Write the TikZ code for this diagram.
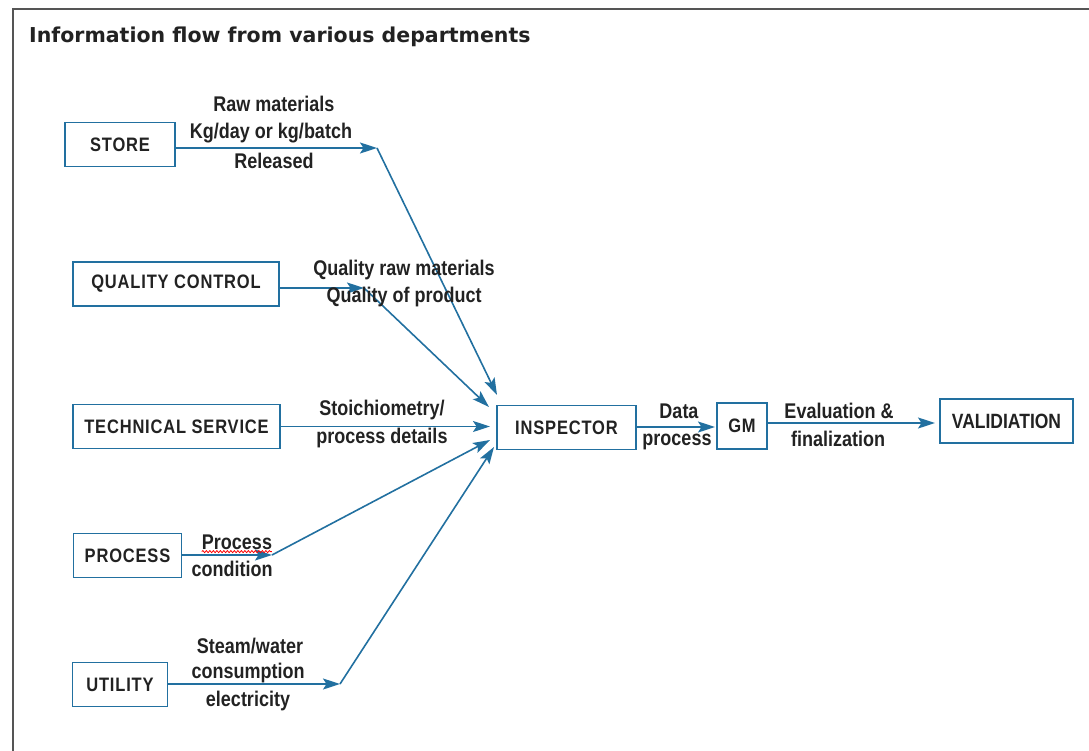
\documentclass[tikz,border=0pt]{standalone}
\usepackage{fontspec}
\usepackage{graphicx}
\setmainfont{Liberation Sans}
\newfontfamily\titlefont{DejaVu Sans}
\newfontfamily\boxfont[LetterSpace=5]{Liberation Sans}
\newcommand\vs[1]{\scalebox{1}[1.18]{#1}}
\usetikzlibrary{arrows.meta,decorations.pathmorphing}
\definecolor{flowblue}{HTML}{2270A0}
\definecolor{txt}{HTML}{222222}
\definecolor{frame}{HTML}{555555}
\tikzset{
  deptbox/.style={draw=flowblue,line width=1.6bp,minimum height=44bp,inner sep=0pt,text=txt,font=\boxfont\bfseries\fontsize{16.5bp}{19bp}\selectfont},
  lbl/.style={text=txt,font=\bfseries\fontsize{18bp}{21bp}\selectfont,inner sep=0pt},
  arr/.style={draw=flowblue,line width=1.6bp,-{Stealth[length=17bp,width=11bp,inset=3.5bp]}}
}
\begin{document}
\begin{tikzpicture}[x=1bp,y=-1bp]
\useasboundingbox (0,0) rectangle (1089,751);
\draw[frame,line width=2bp] (13,751) -- (13,9) -- (1089,9);
\node[anchor=base west,text=txt,font=\titlefont\bfseries\fontsize{20.5bp}{24bp}\selectfont,inner sep=0pt] (title) at (29,43) {Information flow from various departments};

% boxes
\node[deptbox,minimum width=110bp] (store) at (120,144.5) {\vs{STORE}};
\node[deptbox,minimum width=206bp] (qc) at (176,284) {\vs{QUALITY CONTROL}};
\node[deptbox,minimum width=207bp] (ts) at (176.5,426.5) {\vs{TECHNICAL SERVICE}};
\node[deptbox,minimum width=108bp] (proc) at (127.5,555.5) {\vs{PROCESS}};
\node[deptbox,minimum width=95bp] (util) at (120,684.5) {\vs{UTILITY}};
\node[deptbox,minimum width=139bp] (insp) at (566.5,427.5) {\vs{INSPECTOR}};
\node[deptbox,minimum width=50bp,minimum height=46bp] (gm) at (742,426) {\vs{GM}};
\node[deptbox,minimum width=133bp,font=\bfseries\fontsize{17.5bp}{20bp}\selectfont] (val) at (1006.5,421) {\vs{VALIDIATION}};

% bend points and tips
\coordinate (s1) at (377,148);
\coordinate (q1) at (364,288);
\coordinate (p1) at (272,555);
\coordinate (u1) at (340,684);
\coordinate (tS) at (497,395);
\coordinate (tQ) at (489,407);
\coordinate (tT) at (490,426.5);
\coordinate (tP) at (490,440);
\coordinate (tU) at (494,447);
\coordinate (tG) at (715,427);
\coordinate (tV) at (935,423);

\draw[arr] (store.east |- s1) -- (s1);
\draw[arr] (s1) -- (tS);
\draw[arr] (qc.east |- q1) -- (q1);
\draw[arr] (q1) -- (tQ);
\draw[arr] (ts.east |- tT) -- (tT);
\draw[arr] (proc.east |- p1) -- (p1);
\draw[arr] (p1) -- (tP);
\draw[arr] (util.east |- u1) -- (u1);
\draw[arr] (u1) -- (tU);
\draw[arr] (insp.east |- tG) -- (tG);
\draw[arr] (gm.east |- tV) -- (tV);

% labels
\node[lbl] (l1) at (274,104) {\vs{Raw materials}};
\node[lbl] (l2) at (271,133) {\vs{Kg/day or kg/batch}};
\node[lbl] (l3) at (274,161) {\vs{Released}};
\node[lbl] (l4) at (404,270) {\vs{Quality raw materials}};
\node[lbl] (l5) at (404,297) {\vs{Quality of product}};
\node[lbl] (l6) at (382,410) {\vs{Stoichiometry/}};
\node[lbl] (l7) at (382,438) {\vs{process details}};
\node[lbl] (l8) at (237,542) {\vs{Process}};
\node[lbl] (l9) at (232,569) {\vs{condition}};
\node[lbl] (l10) at (250,646) {\vs{Steam/water}};
\node[lbl] (l11) at (248,673) {\vs{consumption}};
\node[lbl] (l12) at (248,701) {\vs{electricity}};
\node[lbl] (l13) at (679,411) {\vs{Data}};
\node[lbl] (l14) at (677,442) {\vs{process}};
\node[lbl] (l15) at (839,411) {\vs{Evaluation \&}};
\node[lbl] (l16) at (838,439) {\vs{finalization}};

\draw[red,line width=0.8bp,decorate,decoration={snake,amplitude=1bp,segment length=3.5bp}] (l8.south west) ++(0,2) -- ++(70,0);
\end{tikzpicture}
\end{document}
